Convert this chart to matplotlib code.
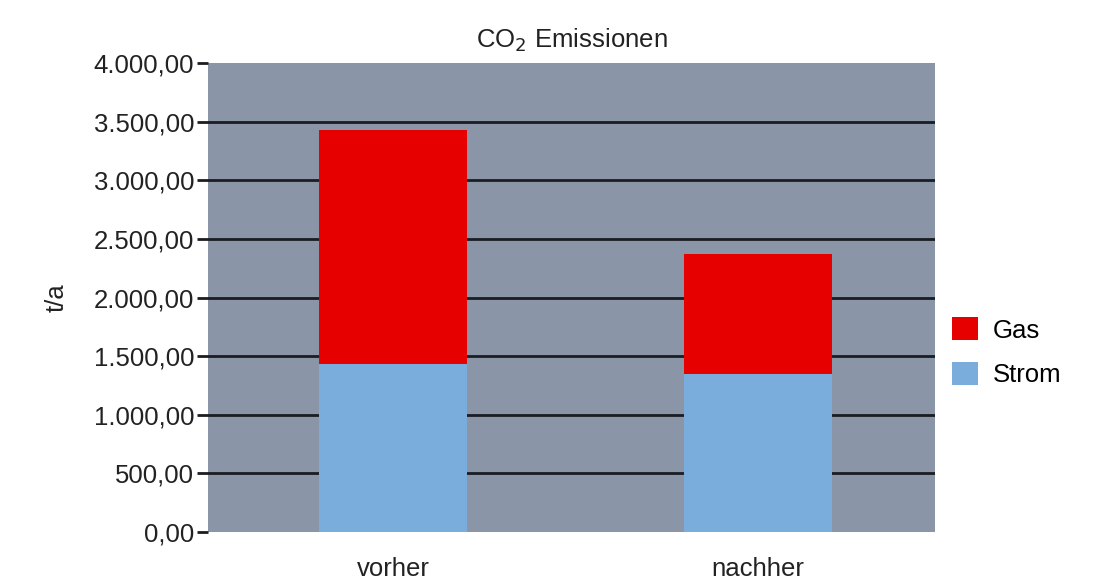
import matplotlib.pyplot as plt
import numpy as np

plt.rcParams['font.family'] = ['Liberation Sans', 'DejaVu Sans']

# daten
kategorien = ['vorher', 'nachher']
strom = [1433, 1348]
gas = [1995, 1023]
yticks = [0, 500, 1000, 1500, 2000, 2500, 3000, 3500, 4000]

def fmt(v):
    s = '{:,.2f}'.format(v)
    return s.replace(',', 'X').replace('.', ',').replace('X', '.')

fig = plt.figure(figsize=(11.02, 5.81), dpi=100)
ax = fig.add_axes([0.1887, 0.0843, 0.6598, 0.8073])
ax.set_facecolor('#8a95a8')

x = np.arange(len(kategorien))
# gitterlinien
for t in yticks[1:-1]:
    ax.axhline(t, color='#1a1d22', lw=2, zorder=1)

ax.bar(x, strom, width=0.405, color='#7aacdc', label='Strom', zorder=2)
ax.bar(x, gas, width=0.405, bottom=strom, color='#e60000', label='Gas', zorder=2)

ax.set_xlim(-0.507, 1.485)
ax.set_ylim(0, 4000)
ax.set_yticks(yticks)
ax.set_yticklabels([fmt(t) for t in yticks])
ax.set_xticks(x)
ax.set_xticklabels(kategorien)

for s in ax.spines.values():
    s.set_visible(False)
ax.tick_params(axis='y', length=8, width=2, color='#1a1d22', labelsize=18.5, pad=2, labelcolor='#222222')
ax.tick_params(axis='x', length=0, labelsize=18.5, pad=18, labelcolor='#222222')

ax.set_ylabel('t/a', fontsize=18.5, color='#222222', labelpad=18)
ax.set_title('CO$_2$ Emissionen', fontsize=18.5, color='#222222', pad=11)

h, l = ax.get_legend_handles_labels()
leg = ax.legend(h[::-1], l[::-1], loc='center left', bbox_to_anchor=(1.0234, 0.383),
                frameon=False, fontsize=18.5, handlelength=1.0, handleheight=1.0,
                handletextpad=0.58, labelspacing=0.75, borderaxespad=0, borderpad=0)

fig.savefig('out.png', dpi=100)
